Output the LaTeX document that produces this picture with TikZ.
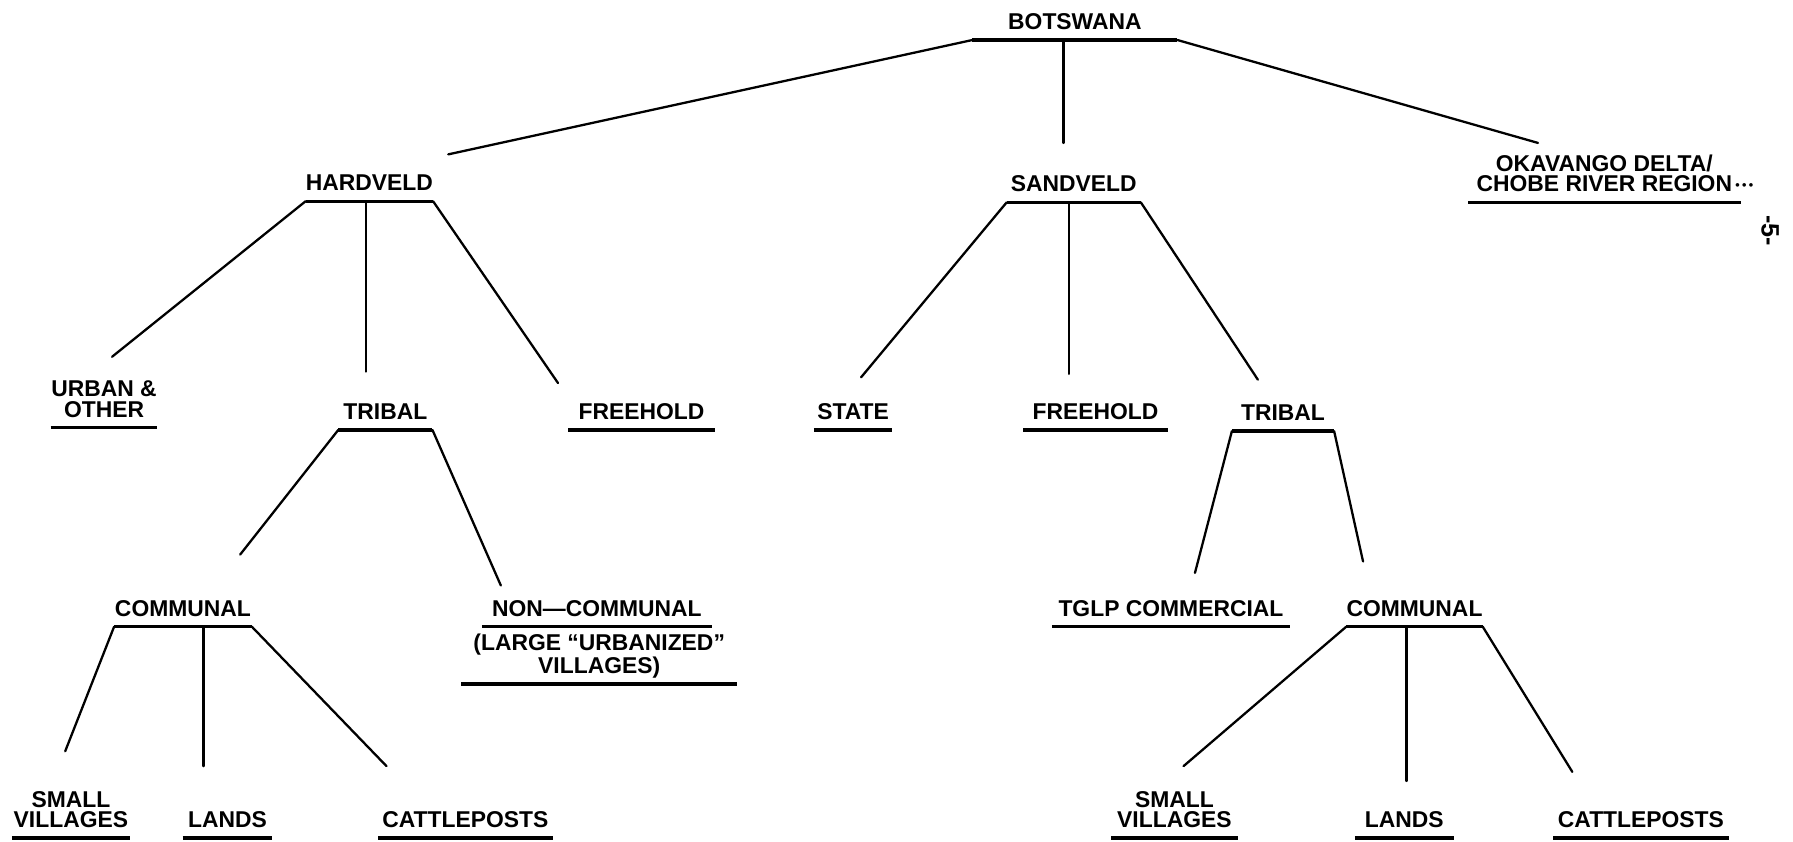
\documentclass[tikz,border=0pt]{standalone}
\usepackage{fontspec}
\setmainfont{Liberation Sans}
\newfontfamily\catfont{Liberation Sans}

\begin{document}
\begin{tikzpicture}[x=1pt,y=-1pt]
\tikzstyle{cat}=[font=\catfont\bfseries\fontsize{20}{18}\selectfont, align=center, anchor=south, inner xsep=0pt, inner ysep=9pt, text depth=0pt]
\tikzstyle{bar}=[line width=3pt]
\tikzstyle{link}=[line width=2pt, line cap=round]
\useasboundingbox (0,0) rectangle (1568,736);

% level 0 and 1
\node[cat, minimum width=179pt] (bots)  at (940,35)   {BOTSWANA};
\node[cat, minimum width=110pt] (hard)  at (323,176)  {HARDVELD};
\node[cat, minimum width=117pt] (sand)  at (939,177)  {SANDVELD};
\node[cat, minimum width=238pt] (oka)   at (1403,177) {OKAVANGO DELTA/\\CHOBE RIVER REGION\rlap{\kern3pt\raisebox{2pt}{\fontsize{11}{11}\selectfont •\kern2pt•\kern2pt•}}};
% level 2
\node[cat, minimum width=93pt]  (urban) at (91,374)   {URBAN \&\\OTHER};
\node[cat, minimum width=82pt]  (trih)  at (337,376)  {TRIBAL};
\node[cat, minimum width=128pt] (freeh) at (561,376)  {FREEHOLD};
\node[cat, minimum width=68pt]  (state) at (746,376)  {STATE};
\node[cat, minimum width=126pt] (frees) at (958,376)  {FREEHOLD};
\node[cat, minimum width=89pt]  (tris)  at (1122,377) {TRIBAL};
% level 3
\node[cat, minimum width=120pt] (comh)  at (160,548)  {COMMUNAL};
\node[cat, minimum width=201pt] (nonc)  at (522,548)  {NON—COMMUNAL};
\node[cat, minimum width=241pt] (large) at (524,598)  {(LARGE “URBANIZED”\\VILLAGES)};
\node[cat, minimum width=208pt] (tglp)  at (1024,548) {TGLP COMMERCIAL};
\node[cat, minimum width=115pt] (coms)  at (1237,548) {COMMUNAL};
% level 4
\node[cat, minimum width=103pt] (smallh)  at (62,733)   {SMALL\\VILLAGES};
\node[cat, minimum width=78pt]  (landh)   at (199,733)  {LANDS};
\node[cat, minimum width=152pt] (cattleh) at (407,733)  {CATTLEPOSTS};
\node[cat, minimum width=110pt] (smalls)  at (1027,733) {SMALL\\VILLAGES};
\node[cat, minimum width=86pt]  (lands)   at (1228,733) {LANDS};
\node[cat, minimum width=153pt] (cattles) at (1435,733) {CATTLEPOSTS};
% page number
\node[font=\catfont\bfseries\fontsize{22}{18}\selectfont, rotate=-90] (page) at (1548,202) {-5-};

\foreach \n in {bots,hard,sand,oka,urban,trih,freeh,state,frees,tris,comh,nonc,large,tglp,coms,smallh,landh,cattleh,smalls,lands,cattles}
  \draw[bar] (\n.south west) -- (\n.south east);

% free ends of the branches
\coordinate (to-hard)    at (392,135);
\coordinate (to-sand)    at (930,125);
\coordinate (to-oka)     at (1345,125);
\coordinate (to-urban)   at (98,312);
\coordinate (to-trih)    at (320,325);
\coordinate (to-freeh)   at (488,335);
\coordinate (to-state)   at (753,330);
\coordinate (to-frees)   at (935,327);
\coordinate (to-tris)    at (1100,332);
\coordinate (to-comh)    at (210,485);
\coordinate (to-nonc)    at (438,512);
\coordinate (to-tglp)    at (1045,501);
\coordinate (to-coms)    at (1192,491);
\coordinate (to-smallh)  at (57,657);
\coordinate (to-landh)   at (178,670);
\coordinate (to-cattleh) at (338,670);
\coordinate (to-smalls)  at (1035,670);
\coordinate (to-lands)   at (1230,683);
\coordinate (to-cattles) at (1375,675);

\draw[link] (bots.south west) -- (to-hard);
\draw[link] (to-sand |- bots.south) -- (to-sand);
\draw[link] (bots.south east) -- (to-oka);
\draw[link] (hard.south west) -- (to-urban);
\draw[link] (to-trih |- hard.south) -- (to-trih);
\draw[link] (hard.south east) -- (to-freeh);
\draw[link] (sand.south west) -- (to-state);
\draw[link] (to-frees |- sand.south) -- (to-frees);
\draw[link] (sand.south east) -- (to-tris);
\draw[link] (trih.south west) -- (to-comh);
\draw[link] (trih.south east) -- (to-nonc);
\draw[link] (tris.south west) -- (to-tglp);
\draw[link] (tris.south east) -- (to-coms);
\draw[link] (comh.south west) -- (to-smallh);
\draw[link] (to-landh |- comh.south) -- (to-landh);
\draw[link] (comh.south east) -- (to-cattleh);
\draw[link] (coms.south west) -- (to-smalls);
\draw[link] (to-lands |- coms.south) -- (to-lands);
\draw[link] (coms.south east) -- (to-cattles);
\end{tikzpicture}
\end{document}
